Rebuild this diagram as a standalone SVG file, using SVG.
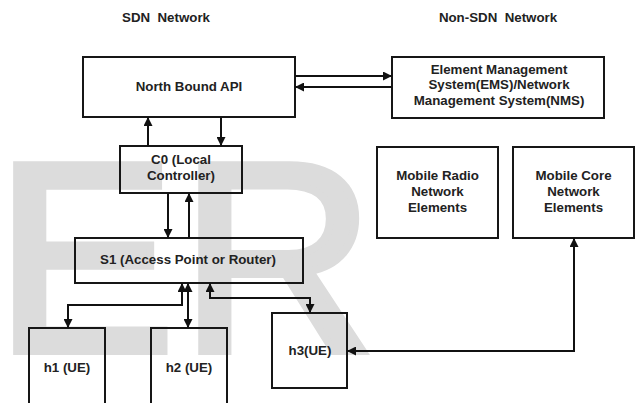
<svg xmlns="http://www.w3.org/2000/svg" width="636" height="403" viewBox="0 0 636 403">
<defs>
<style>
.box{fill:none;stroke:#161616;stroke-width:2}
.t{font-family:"Liberation Sans",Arial,sans-serif;font-weight:bold;font-size:13.3px;fill:#222;text-anchor:middle;white-space:pre}
.c{fill:none;stroke:#111;stroke-width:2}
.wm{font-family:"Liberation Sans",Arial,sans-serif;font-size:270px;fill:#dcdcdc;stroke:#dcdcdc;stroke-width:8;letter-spacing:5px}
</style>
<marker id="ah" viewBox="0 0 10 10" refX="10" refY="5" markerWidth="9" markerHeight="9" markerUnits="userSpaceOnUse" orient="auto-start-reverse">
<path d="M0,0 L10,5 L0,10 z" fill="#111"/>
</marker>
</defs>
<rect width="636" height="403" fill="#fff"/>
<text class="wm" x="-5" y="351">ER</text>
<text class="t" x="166" y="22" font-size="13.8">SDN  Network</text>
<text class="t" x="498" y="22" font-size="13.8">Non-SDN  Network</text>
<g id="nb"><rect class="box" x="83" y="57" width="212" height="60"/><text class="t" x="189" y="91">North Bound API</text></g>
<g id="ems"><rect class="box" x="392" y="57" width="212" height="61"/><text class="t" x="499" y="74">Element Management</text><text class="t" x="499" y="89">System(EMS)/Network</text><text class="t" x="499" y="104.5">Management System(NMS)</text></g>
<g id="c0"><rect class="box" x="120" y="146" width="122" height="47"/><text class="t" x="181" y="164">C0 (Local</text><text class="t" x="181" y="180">Controller)</text></g>
<g id="s1"><rect class="box" x="75" y="238" width="228" height="45"/><text class="t" x="188" y="264">S1 (Access Point or Router)</text></g>
<g id="radio"><rect class="box" x="377" y="147" width="121" height="91"/><text class="t" x="437.5" y="180">Mobile Radio</text><text class="t" x="437.5" y="196">Network</text><text class="t" x="437.5" y="212">Elements</text></g>
<g id="core"><rect class="box" x="513" y="147" width="121" height="91"/><text class="t" x="573.5" y="180">Mobile Core</text><text class="t" x="573.5" y="196">Network</text><text class="t" x="573.5" y="212">Elements</text></g>
<g id="h1"><rect class="box" x="29" y="328" width="76" height="80"/><text class="t" x="67" y="372">h1 (UE)</text></g>
<g id="h2"><rect class="box" x="151" y="328" width="76" height="80"/><text class="t" x="189" y="372">h2 (UE)</text></g>
<g id="h3"><rect class="box" x="272" y="313" width="75" height="75"/><text class="t" x="310" y="355">h3(UE)</text></g>
<g id="connectors">
<path class="c" d="M295,76 H392" marker-end="url(#ah)"/>
<path class="c" d="M392,87 H295" marker-end="url(#ah)"/>
<path class="c" d="M148,146 V117" marker-end="url(#ah)"/>
<path class="c" d="M221,117 V146" marker-end="url(#ah)"/>
<path class="c" d="M168,193 V238" marker-end="url(#ah)"/>
<path class="c" d="M189,238 V193" marker-end="url(#ah)"/>
<path class="c" d="M182,283 V305 H68 V328" marker-start="url(#ah)" marker-end="url(#ah)"/>
<path class="c" d="M188,283 V328" marker-start="url(#ah)" marker-end="url(#ah)"/>
<path class="c" d="M210,283 V298 H310 V313" marker-start="url(#ah)" marker-end="url(#ah)"/>
<path class="c" d="M347,351 H574 V238" marker-start="url(#ah)" marker-end="url(#ah)"/>
</g>
</svg>
